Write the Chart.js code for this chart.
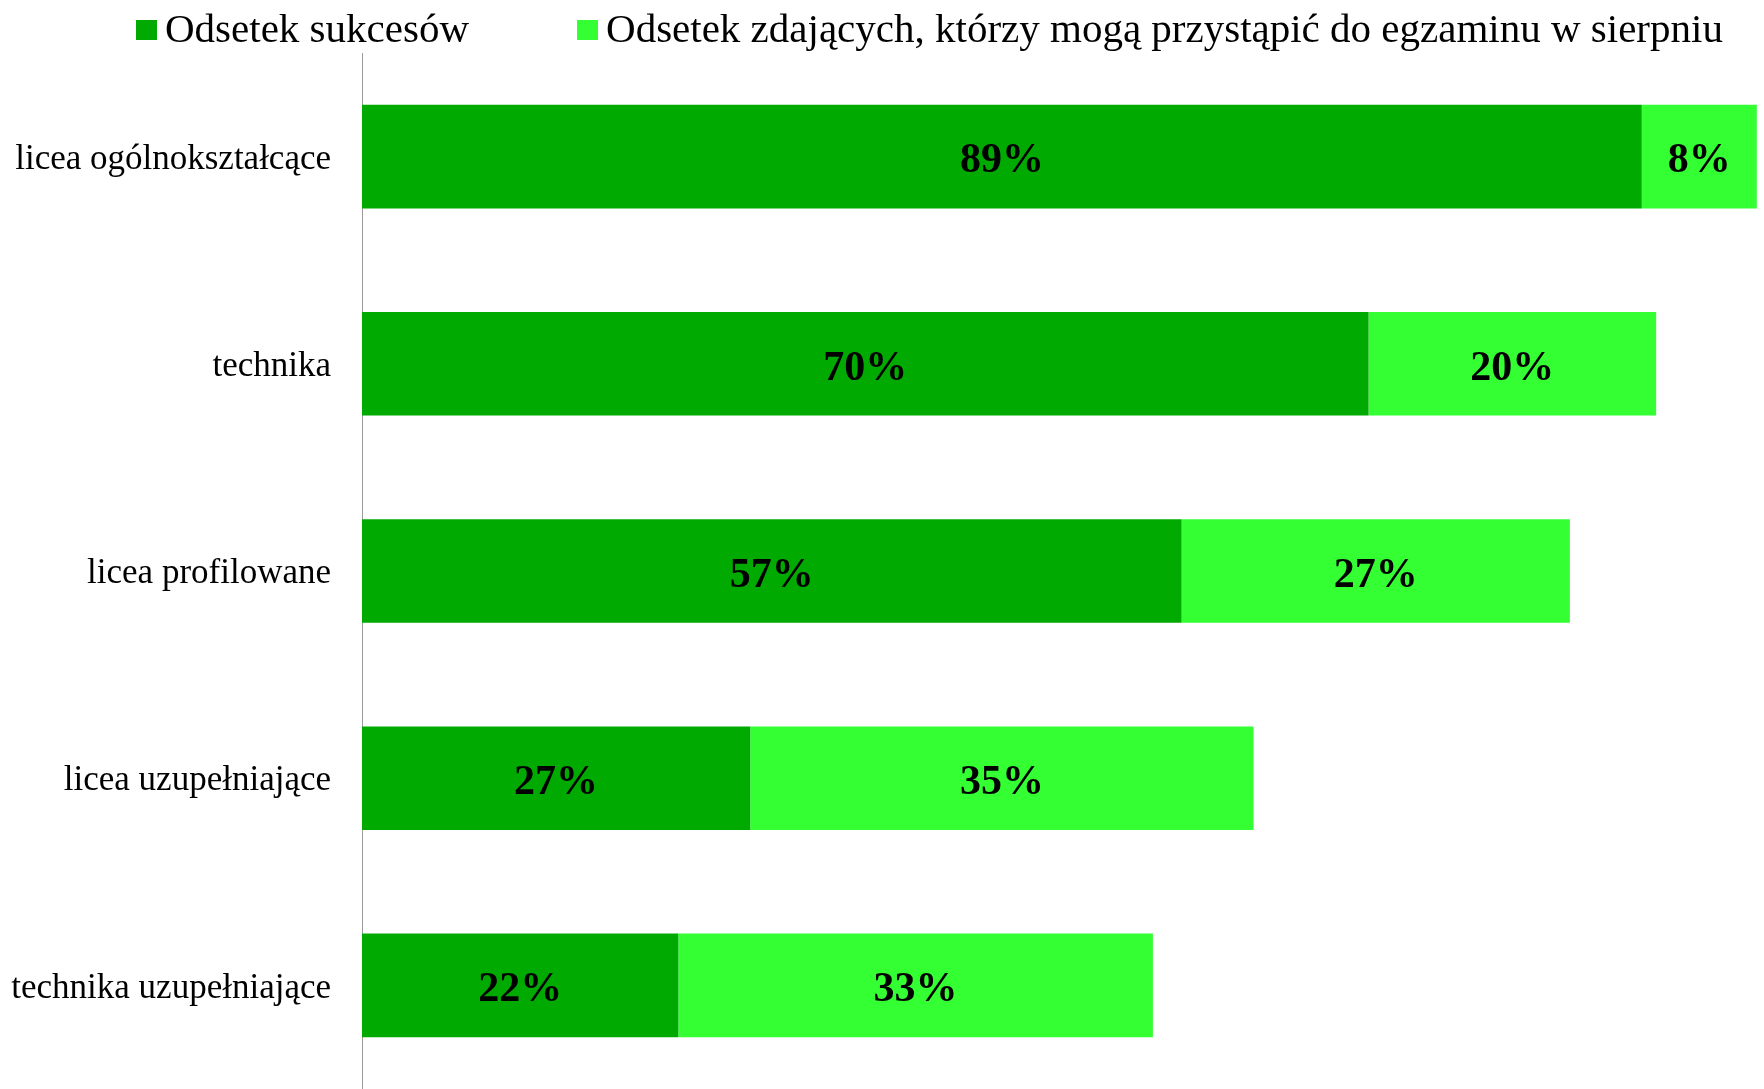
<!DOCTYPE html>
<html><head><meta charset="utf-8">
<script src="https://cdn.jsdelivr.net/npm/chart.js@4.4.0/dist/chart.umd.min.js"></script>
<style>html,body{margin:0;padding:0;background:#fff;overflow:hidden;} #wrap{position:relative;width:1764px;height:1089px;}</style>
</head><body><div id="wrap"><canvas id="c"></canvas></div>
<script>
const categories = ['licea ogólnokształcące', 'technika', 'licea profilowane', 'licea uzupełniające', 'technika uzupełniające'];
const seriesNames = ['Odsetek sukcesów', 'Odsetek zdających, którzy mogą przystąpić do egzaminu w sierpniu'];
const successRate = [89, 70, 57, 27, 22];
const augustRate = [8, 20, 27, 35, 33];
const seriesColors = ['#00AA00', '#33FF33'];
const xMax = 97.5;

const SERIF = '"Liberation Serif","Times New Roman",serif';

const barLabels = {
  id: 'barLabels',
  afterDatasetsDraw(chart) {
    const ctx = chart.ctx;
    ctx.save();
    ctx.font = 'bold 42px ' + SERIF;
    ctx.fillStyle = '#000';
    ctx.textAlign = 'center';
    ctx.textBaseline = 'middle';
    chart.data.datasets.forEach((ds, di) => {
      const meta = chart.getDatasetMeta(di);
      meta.data.forEach((bar, i) => {
        const p = bar.getProps(['x', 'base', 'y'], true);
        const right = Math.min(p.x, chart.chartArea.right);
        ctx.fillText(ds.data[i] + '%', (p.base + right) / 2, p.y + 5);
      });
    });
    ctx.restore();
  }
};

const topLegend = {
  id: 'topLegend',
  afterDraw(chart) {
    const ctx = chart.ctx;
    ctx.save();
    ctx.font = '41px ' + SERIF;
    ctx.textBaseline = 'middle';
    ctx.textAlign = 'left';
    let x = 136;
    const cy = 30;
    chart.data.datasets.forEach(ds => {
      ctx.fillStyle = ds.backgroundColor;
      ctx.fillRect(x, cy - 10, 21, 20);
      ctx.fillStyle = '#000';
      ctx.fillText(ds.label, x + 29, cy + 1);
      x += 29 + ctx.measureText(ds.label).width + 108;
    });
    ctx.restore();
  }
};

new Chart(document.getElementById('c'), {
  type: 'bar',
  data: {
    labels: categories,
    datasets: [
      { label: seriesNames[0], data: successRate, backgroundColor: seriesColors[0], borderWidth: 0, barPercentage: 0.5, categoryPercentage: 1 },
      { label: seriesNames[1], data: augustRate, backgroundColor: seriesColors[1], borderWidth: 0, barPercentage: 0.5, categoryPercentage: 1 }
    ]
  },
  options: {
    indexAxis: 'y',
    responsive: true,
    maintainAspectRatio: false,
    animation: false,
    events: [],
    layout: { padding: { top: 53, left: 0, right: 0, bottom: 0 } },
    plugins: { legend: { display: false }, tooltip: { enabled: false } },
    scales: {
      x: { stacked: true, display: false, min: 0, max: xMax },
      y: {
        stacked: true,
        grid: { display: false },
        border: { display: true, color: '#9a9a9a', width: 1 },
        ticks: { font: { family: SERIF, size: 35 }, color: '#000', padding: 23, labelOffset: 3 },
        afterFit(s) { s.width = 362; s.paddingTop = 0; s.paddingBottom = 0; }
      }
    }
  },
  plugins: [barLabels, topLegend]
});
</script>
</body></html>
